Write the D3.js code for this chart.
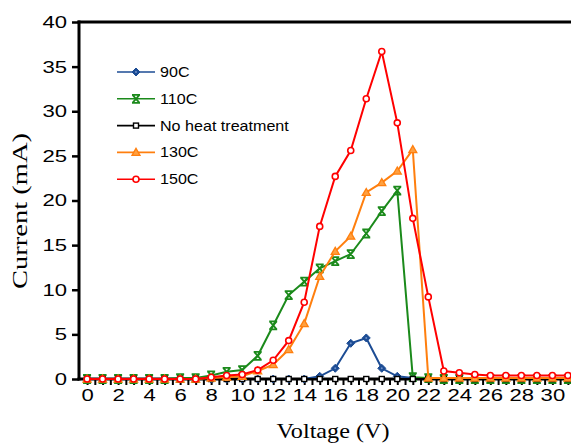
<!DOCTYPE html>
<html>
<head>
<meta charset="utf-8">
<script src="https://cdn.jsdelivr.net/npm/d3@7"></script>
<style>
  html, body { margin: 0; padding: 0; background: #fff; }
  svg { display: block; }
  .tick text { font-family: "Liberation Sans", Arial, sans-serif; fill: #000; }
</style>
</head>
<body>
<svg id="chart" width="571" height="444"></svg>
<script>
// Current-voltage curves for each heat treatment

const voltage = [0, 1, 2, 3, 4, 5, 6, 7, 8, 9, 10, 11, 12, 13, 14, 15,
                 16, 17, 18, 19, 20, 21, 22, 23, 24, 25, 26, 27, 28, 29, 30, 31];

const c90 = [0, 0, 0, 0, 0, 0, 0, 0, 0, 0, 0, 0, 0, 0, 0, 0.3,
             1.2, 4.0, 4.6, 1.2, 0.3, 0.1, 0, 0, 0, 0, 0, 0, 0, 0, 0, 0];
const c110 = [0, 0, 0, 0, 0, 0, 0.1, 0.1, 0.4, 0.8, 1.0, 2.6, 6.0, 9.4, 10.9, 12.4,
              13.2, 14.0, 16.3, 18.8, 21.1, 0.2, 0.1, 0, 0, 0, 0, 0, 0, 0, 0, 0];
const cNone = [0, 0, 0, 0, 0, 0, 0, 0, 0, 0, 0, 0, 0, 0, 0, 0,
               0, 0, 0, 0, 0, 0, 0, 0, 0, 0, 0, 0, 0, 0, 0, 0];
const c130 = [0, 0, 0, 0, 0, 0, 0, 0, 0.1, 0.2, 0.3, 0.9, 1.6, 3.3, 6.2, 11.5,
              14.3, 16.0, 20.9, 22.0, 23.3, 25.7, 0.1, 0.1, 0.1, 0.1, 0.1, 0.1, 0.1, 0.1, 0.1, 0.1];
const c150 = [0, 0, 0, 0, 0, 0, 0, 0, 0.2, 0.4, 0.5, 1.0, 2.1, 4.3, 8.6, 17.1,
              22.7, 25.6, 31.4, 36.7, 28.7, 18.0, 9.2, 0.9, 0.7, 0.5, 0.4, 0.4, 0.4, 0.4, 0.4, 0.4];

const seriesNames = ["90C", "110C", "No heat treatment", "130C", "150C"];
const seriesColors = ["#1c4c94", "#1b8a1b", "#000000", "#ff7f0e", "#ff0000"];
const seriesMarkers = ["diamond", "cross", "square", "triangle", "circle"];
const seriesValues = [c90, c110, cNone, c130, c150];

const yTicks = [0, 5, 10, 15, 20, 25, 30, 35, 40];

const svg = d3.select("#chart");

const x = d3.scaleLinear().domain([-0.52, 31.2]).range([79, 571]);
const y = d3.scaleLinear().domain([0, 40]).range([379, 22]);

// ---- markers ----

function drawMarker(g, kind, color) {
    if (kind === "circle") {
        g.append("circle").attr("r", 3).attr("fill", "#fff")
            .attr("stroke", color).attr("stroke-width", 1.6);
    } else if (kind === "square") {
        g.append("rect").attr("x", -2.5).attr("y", -2.5).attr("width", 5).attr("height", 5)
            .attr("fill", "#fff").attr("stroke", color).attr("stroke-width", 1.4);
    } else if (kind === "triangle") {
        g.append("path").attr("d", "M0,-4L4,3L-4,3Z")
            .attr("fill", "#ffa040").attr("stroke", color).attr("stroke-width", 1.3);
    } else if (kind === "diamond") {
        g.append("path").attr("d", "M0,-4L4,0L0,4L-4,0Z")
            .attr("fill", color).attr("stroke", color).attr("stroke-width", 1);
        g.append("circle").attr("r", 1).attr("fill", "#6f8fc8");
    } else if (kind === "cross") {
        g.append("path").attr("d", "M-4,-4L4,-4M-4,4L4,4M-3.5,-4L3.5,4M3.5,-4L-3.5,4")
            .attr("fill", "none").attr("stroke", color).attr("stroke-width", 1.8);
    }
}

// ---- axes ----

const sx = 1.3;

const xAxis = d3.axisBottom(x)
    .tickValues(d3.range(0, 31.5, 0.5))
    .tickSize(6)
    .tickFormat(d => (d % 2 === 0 ? d : ""));

const gx = svg.append("g").attr("transform", `translate(0,${y(0)})`).call(xAxis);
gx.select(".domain").remove();
gx.selectAll(".tick line").attr("stroke", "#000").attr("stroke-width", 2);
gx.selectAll(".tick text")
    .attr("font-size", 17).attr("y", 10)
    .attr("transform", `scale(${sx},1)`);

const yAxis = d3.axisLeft(y).tickValues(yTicks).tickSize(7);
const gy = svg.append("g").attr("transform", `translate(79,0)`).call(yAxis);
gy.select(".domain").remove();
gy.selectAll(".tick line").attr("stroke", "#000").attr("stroke-width", 2.5);
gy.selectAll(".tick text")
    .attr("font-size", 17)
    .attr("x", -12 / sx)
    .attr("transform", `scale(${sx},1)`);

// axis lines and top frame
svg.append("line").attr("x1", 79).attr("x2", 79).attr("y1", y(40) - 1.5).attr("y2", y(0) + 1.5)
    .attr("stroke", "#000").attr("stroke-width", 3);
svg.append("line").attr("x1", 77.5).attr("x2", 571).attr("y1", y(0)).attr("y2", y(0))
    .attr("stroke", "#000").attr("stroke-width", 3);
svg.append("line").attr("x1", 77.5).attr("x2", 571).attr("y1", y(40)).attr("y2", y(40))
    .attr("stroke", "#000").attr("stroke-width", 3);

// ---- series ----

const line = d3.line().x((d, i) => x(voltage[i])).y(d => y(d));

seriesValues.forEach((vals, s) => {
    svg.append("path").datum(vals)
        .attr("d", line)
        .attr("fill", "none")
        .attr("stroke", seriesColors[s])
        .attr("stroke-width", 2);
    svg.selectAll(null).data(vals).enter().append("g")
        .attr("transform", (d, i) => `translate(${x(voltage[i])},${y(d)})`)
        .each(function () { drawMarker(d3.select(this), seriesMarkers[s], seriesColors[s]); });
});

// ---- legend ----

const legend = svg.append("g");
seriesNames.forEach((name, s) => {
    const ly = 72 + s * 26.8;
    legend.append("line").attr("x1", 117).attr("x2", 155).attr("y1", ly).attr("y2", ly)
        .attr("stroke", seriesColors[s]).attr("stroke-width", 1.6);
    const m = legend.append("g").attr("transform", `translate(136,${ly})`);
    drawMarker(m, seriesMarkers[s], seriesColors[s]);
    legend.append("text")
        .attr("x", 160 / 1.15).attr("y", ly + 5)
        .attr("transform", "scale(1.15,1)")
        .attr("font-family", "Liberation Sans, Arial, sans-serif")
        .attr("font-size", 14)
        .text(name);
});

// ---- axis titles ----

svg.append("text")
    .attr("x", 333).attr("y", 438)
    .attr("text-anchor", "middle")
    .attr("font-family", "Liberation Serif, Times New Roman, serif")
    .attr("font-size", 21)
    .attr("textLength", 113).attr("lengthAdjust", "spacingAndGlyphs")
    .text("Voltage  (V)");

svg.append("text")
    .attr("transform", "translate(27,211) rotate(-90)")
    .attr("text-anchor", "middle")
    .attr("font-family", "Liberation Serif, Times New Roman, serif")
    .attr("font-size", 21)
    .attr("textLength", 156).attr("lengthAdjust", "spacingAndGlyphs")
    .text("Current (mA)");
</script>
</body>
</html>
